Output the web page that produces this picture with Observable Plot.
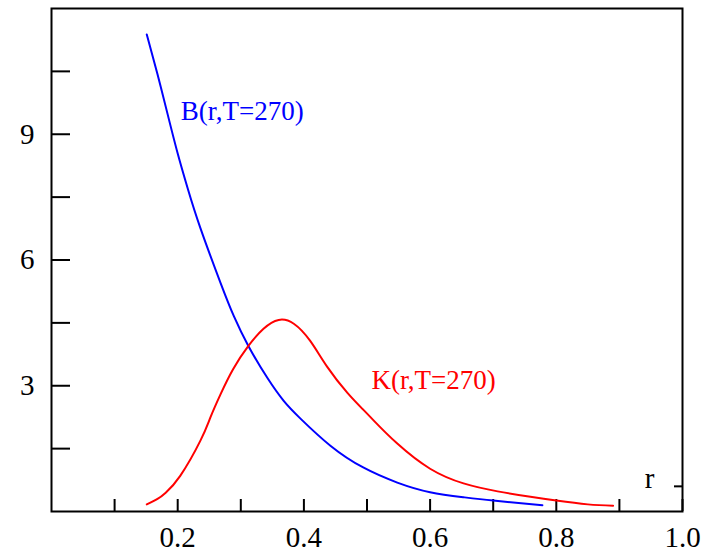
<!DOCTYPE html>
<html>
<head>
<meta charset="utf-8">
<script src="https://cdn.jsdelivr.net/npm/d3@7"></script>
<script src="https://cdn.jsdelivr.net/npm/@observablehq/plot@0.6"></script>
<style>
  html, body { margin: 0; padding: 0; background: #fff; }
  svg { display: block; }
</style>
</head>
<body>
<div id="chart"></div>
<script>
// Blue curve B(r, T=270)
const rB = [0.151, 0.168, 0.184, 0.200, 0.216, 0.236, 0.268, 0.289, 0.312, 0.342, 0.368, 0.395, 0.442, 0.494, 0.548, 0.600, 0.653, 0.700, 0.778];
const valB = [11.38, 10.43, 9.48, 8.54, 7.70, 6.76, 5.45, 4.66, 3.95, 3.19, 2.64, 2.21, 1.57, 1.05, 0.69, 0.46, 0.34, 0.26, 0.15];
// Red curve K(r, T=270)
const rK = [0.151, 0.168, 0.181, 0.204, 0.236, 0.252, 0.268, 0.288, 0.312, 0.336, 0.360, 0.384, 0.410, 0.437, 0.469, 0.494, 0.510, 0.548, 0.600, 0.653, 0.707, 0.759, 0.800, 0.850, 0.890];
const valK = [0.17, 0.30, 0.45, 0.85, 1.69, 2.25, 2.80, 3.40, 3.95, 4.36, 4.57, 4.48, 4.07, 3.45, 2.83, 2.43, 2.18, 1.62, 1.02, 0.67, 0.48, 0.35, 0.26, 0.17, 0.14];

// Axis ticks and labels
const xTicks = [0.1, 0.2, 0.3, 0.4, 0.5, 0.6, 0.7, 0.8, 0.9, 1.0];
const xLabels = [0.2, 0.4, 0.6, 0.8, 1.0];
const yTicks = [1.5, 3, 4.5, 6, 7.5, 9, 10.5];
const yLabels = [3, 6, 9];
const rightTicks = [0.6];

// Annotations
const labels = [
  {x: 0.205, y: 9.55, text: "B(r,T=270)", color: "#0000ff"},
  {x: 0.507, y: 3.13, text: "K(r,T=270)", color: "#ff0000"}
];
const axisName = [{x: 0.948, y: 0.79, text: "r"}];

const dataB = rB.map((r, i) => ({r, v: valB[i]}));
const dataK = rK.map((r, i) => ({r, v: valK[i]}));

const chart = Plot.plot({
  width: 705,
  height: 557,
  marginLeft: 51,
  marginRight: 23,
  marginTop: 8,
  marginBottom: 46,
  style: {fontFamily: "'Liberation Serif', 'Times New Roman', serif", background: "#fff"},
  x: {domain: [0, 1]},
  y: {domain: [0, 12]},
  marks: [
    Plot.frame({strokeWidth: 2, stroke: "#000"}),
    Plot.axisX(xTicks, {tickSize: -12, strokeWidth: 2, fill: "none", label: null}),
    Plot.axisX(xLabels, {tickSize: 0, tickPadding: 15, fontSize: 29, tickFormat: d3.format(".1f"), label: null, fill: "#000"}),
    Plot.axisY(yTicks, {tickSize: -19, strokeWidth: 2, fill: "none", label: null}),
    Plot.axisY(yLabels, {tickSize: 0, tickPadding: 17, fontSize: 29, tickFormat: d3.format("d"), label: null, fill: "#000"}),
    Plot.axisY(rightTicks, {anchor: "right", tickSize: -9, strokeWidth: 2, fill: "none", label: null}),
    Plot.line(dataB, {x: "r", y: "v", stroke: "#0000ff", strokeWidth: 2, curve: "natural"}),
    Plot.line(dataK, {x: "r", y: "v", stroke: "#ff0000", strokeWidth: 2, curve: "natural"}),
    Plot.text(labels, {x: "x", y: "y", text: "text", fill: "color", fontSize: 27, textAnchor: "start"}),
    Plot.text(axisName, {x: "x", y: "y", text: "text", fill: "#000", fontSize: 29})
  ]
});
document.getElementById("chart").append(chart);
</script>
</body>
</html>
